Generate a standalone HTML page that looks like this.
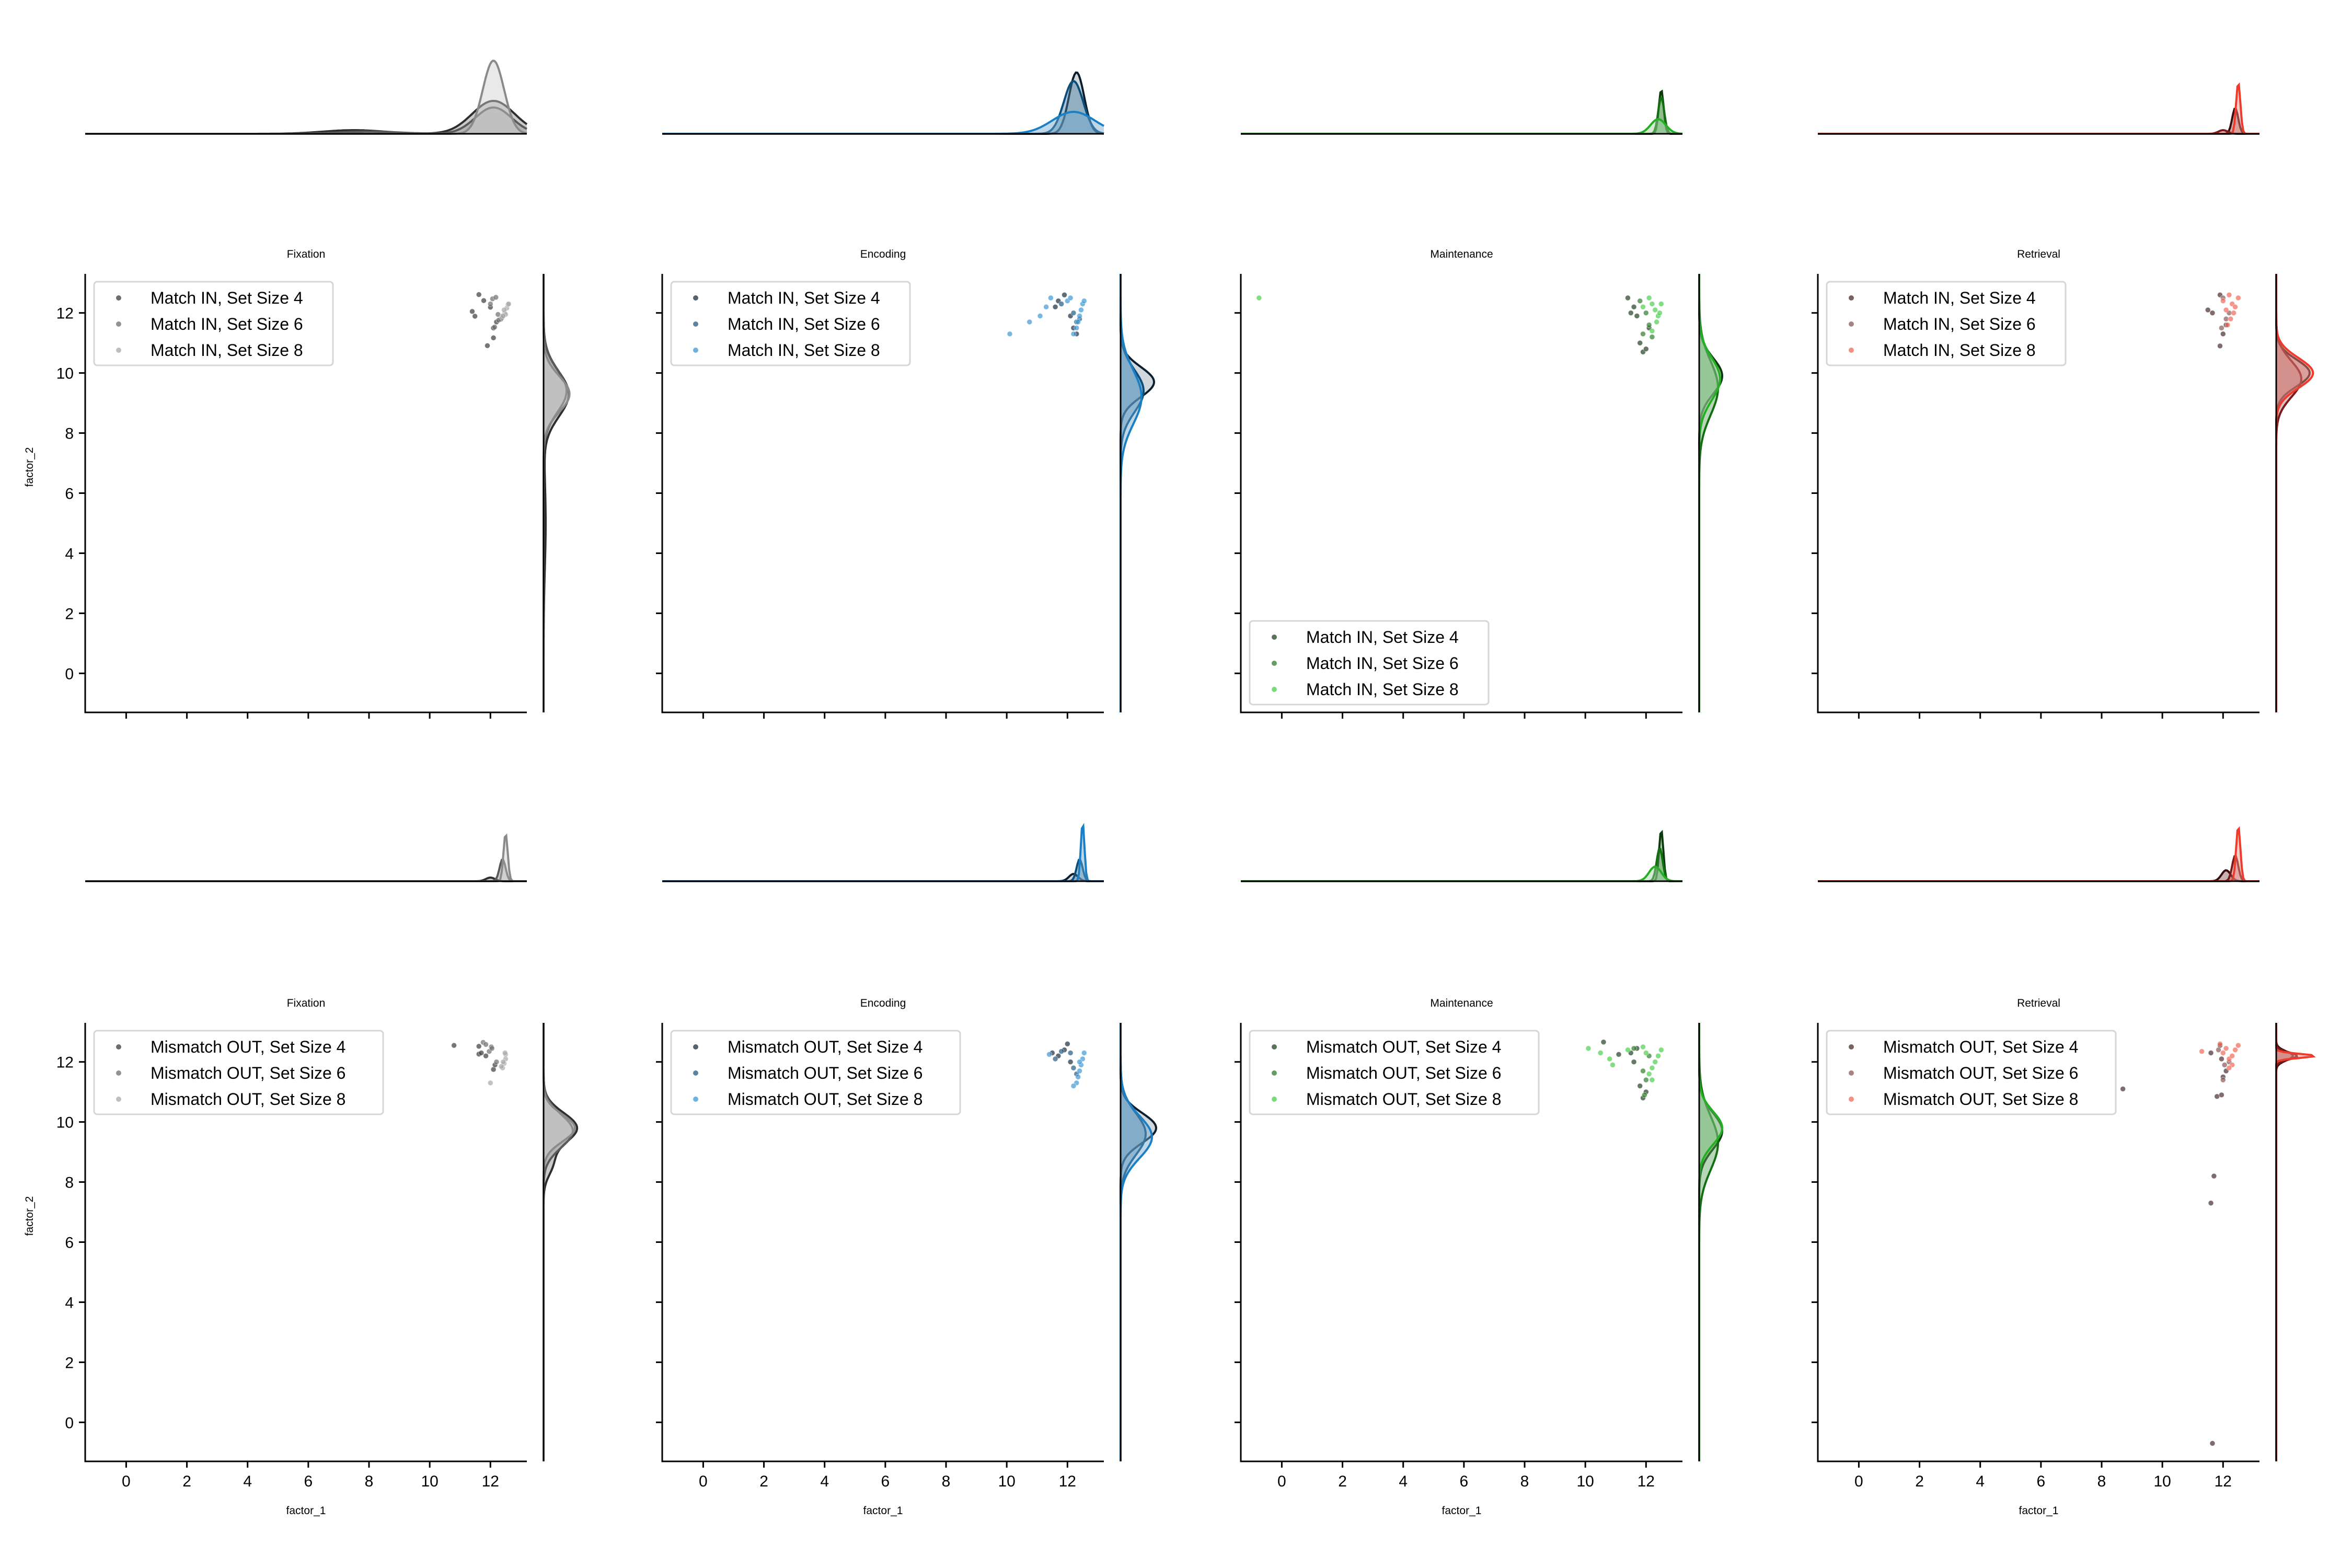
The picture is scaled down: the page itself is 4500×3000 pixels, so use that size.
<!DOCTYPE html>
<html><head><meta charset="utf-8">
<style>
html,body{margin:0;padding:0;background:#fff;}
svg{display:block;font-family:"Liberation Sans","DejaVu Sans",sans-serif;}
</style></head>
<body>
<svg id="chart" width="4500" height="3000" viewBox="0 0 4500 3000" xmlns="http://www.w3.org/2000/svg"></svg>
<script>
// ---- data ----
const phases = ["Fixation","Encoding","Maintenance","Retrieval"];
const conditions = ["Match IN","Mismatch OUT"];
const setSizes = ["Set Size 4","Set Size 6","Set Size 8"];
const xTicks = [0,2,4,6,8,10,12];
const yTicks = [0,2,4,6,8,10,12];

// scatter points per panel [row][col] -> 3 series of [x,y]
const pointsFixIn = [
 [[11.62,12.61],[11.78,12.41],[11.4,12.05],[11.49,11.89],[11.9,10.91],[12.1,11.17],[12.0,12.19],[12.2,11.7],[12.35,11.8],[12.1,11.5]],
 [[12.07,12.47],[12.18,12.52],[12.14,11.53],[12.27,11.76],[12.25,11.95],[12.0,12.3],[12.4,11.9]],
 [[12.38,11.84],[12.47,12.0],[12.54,12.16],[12.58,12.28],[12.45,12.1],[12.5,11.95],[12.6,12.3],[12.42,11.9]]];
const pointsEncIn = [
 [[11.9,12.6],[11.6,12.2],[12.2,11.5],[12.3,11.3],[12.1,11.9],[11.7,12.4]],
 [[12.3,11.7],[12.2,12.0],[11.8,12.3],[12.4,11.8]],
 [[10.1,11.3],[10.75,11.7],[11.1,11.9],[11.45,12.5],[11.3,12.2],[12.0,12.4],[12.5,12.3],[12.45,12.1],[12.4,11.9],[12.35,11.7],[12.3,11.5],[12.2,11.3],[12.55,12.4],[12.1,12.5]]];
const pointsMaiIn = [
 [[11.4,12.5],[11.6,12.2],[11.8,11.0],[11.9,10.7],[12.0,10.8],[11.7,11.9],[12.1,11.5],[11.5,12.0]],
 [[11.8,12.4],[12.0,12.0],[12.1,11.6],[11.9,11.3],[12.2,11.2]],
 [[-0.75,12.5],[12.2,12.3],[12.3,12.1],[12.4,11.9],[12.5,12.3],[12.35,11.7],[12.2,11.4],[12.1,12.5],[11.9,12.2],[12.45,12.0]]];
const pointsRetIn = [
 [[11.5,12.1],[11.65,12.0],[11.9,10.9],[12.0,11.3],[11.9,12.6],[12.1,11.6]],
 [[12.0,12.5],[12.1,11.8],[11.95,11.5],[12.2,12.0]],
 [[12.0,12.4],[12.2,12.6],[12.3,12.3],[12.35,12.0],[12.25,11.8],[12.15,11.6],[12.4,12.2],[12.5,12.5],[12.1,12.1]]];
const pointsFixOut = [
 [[10.8,12.55],[11.62,12.52],[11.62,12.26],[11.85,12.2],[12.1,11.75],[12.15,11.9],[11.7,12.3]],
 [[11.76,12.65],[11.85,12.58],[11.96,12.35],[12.03,12.5],[12.2,12.0],[12.05,12.45]],
 [[12.0,11.3],[12.4,11.8],[12.45,11.95],[12.5,12.1],[12.5,12.25],[12.42,12.0],[12.36,11.85],[12.48,12.3]]];
const pointsEncOut = [
 [[11.5,12.3],[11.7,12.2],[11.9,12.4],[12.1,12.0],[12.0,12.6]],
 [[11.6,12.1],[11.8,12.35],[12.2,11.8],[12.3,11.6],[12.1,12.3]],
 [[11.4,12.25],[12.3,11.3],[12.35,11.5],[12.4,11.7],[12.45,11.9],[12.5,12.1],[12.55,12.3],[12.4,12.0],[12.2,11.2]]];
const pointsMaiOut = [
 [[10.6,12.66],[11.1,12.25],[11.5,12.3],[11.6,12.0],[11.8,11.2],[11.9,10.8],[12.0,11.0],[11.7,12.45]],
 [[11.6,12.45],[11.9,11.7],[12.0,11.4],[11.95,10.9],[12.1,12.2]],
 [[10.1,12.45],[10.5,12.3],[10.8,12.1],[10.9,11.9],[11.4,12.4],[11.9,12.5],[12.0,12.3],[12.2,11.8],[12.3,12.0],[12.4,12.2],[12.5,12.4],[12.1,11.6],[12.2,11.4]]];
const pointsRetOut = [
 [[8.7,11.1],[11.7,8.2],[11.6,7.3],[11.65,-0.7],[11.8,10.85],[11.95,10.9],[11.6,12.3],[11.9,12.55],[12.0,11.5],[12.1,11.7],[11.95,12.1]],
 [[11.85,12.4],[12.05,11.9],[12.0,11.4],[12.2,12.0]],
 [[11.3,12.35],[11.9,12.6],[12.0,12.3],[12.1,12.45],[12.2,12.1],[12.3,12.2],[12.4,12.4],[12.5,12.55],[12.3,11.9],[12.2,11.8]]];
const panelPoints = [[pointsFixIn,pointsEncIn,pointsMaiIn,pointsRetIn],[pointsFixOut,pointsEncOut,pointsMaiOut,pointsRetOut]];

// marginal density components per series: [mean, sd, relative height]
const topKdeIn = [
 [[[12.1,0.7,0.45],[7.5,1.0,0.05]],[[12.1,0.6,0.36],[8.0,1.0,0.03]],[[12.1,0.35,1.0]]],
 [[[12.3,0.25,0.84]],[[12.2,0.32,0.72]],[[12.2,0.7,0.3]]],
 [[[12.5,0.08,0.6]],[[12.5,0.1,0.5]],[[12.4,0.25,0.2]]],
 [[[12.4,0.1,0.35]],[[12.0,0.15,0.05]],[[12.5,0.07,0.7]]]];
const topKdeOut = [
 [[[12.0,0.15,0.05]],[[12.4,0.1,0.3]],[[12.5,0.07,0.65]]],
 [[[12.2,0.15,0.1]],[[12.4,0.1,0.3]],[[12.5,0.06,0.8]]],
 [[[12.5,0.07,0.7]],[[12.45,0.1,0.45]],[[12.3,0.2,0.2]]],
 [[[12.1,0.15,0.15]],[[12.4,0.1,0.35]],[[12.5,0.07,0.75]]]];
const rightKdeIn = [
 [[[9.3,0.75,0.6],[5,1.5,0.05]],[[9.4,0.7,0.55]],[[9.3,0.6,0.62]]],
 [[[9.7,0.5,0.8]],[[9.4,0.7,0.55]],[[9.2,0.9,0.5]]],
 [[[9.9,0.6,0.55]],[[9.5,0.9,0.45]],[[9.8,0.7,0.5]]],
 [[[10.0,0.45,0.8]],[[9.8,0.6,0.6]],[[10.0,0.5,0.88]]]];
const rightKdeOut = [
 [[[9.8,0.5,0.8],[8.6,0.4,0.2]],[[9.7,0.55,0.7]],[[9.8,0.45,0.75]]],
 [[[9.8,0.5,0.85]],[[9.6,0.7,0.6]],[[9.5,0.7,0.75]]],
 [[[9.7,0.6,0.55]],[[9.3,0.9,0.45]],[[9.8,0.55,0.55]]],
 [[[12.2,0.15,0.4]],[[12.2,0.12,0.5]],[[12.2,0.07,0.92]]]];
const topKde = [topKdeIn, topKdeOut];
const rightKde = [rightKdeIn, rightKdeOut];

// ---- styling ----
const pointColors = [
 ["#3c3c3c","#6e6e6e","#a8a8a8"],
 ["#1c2f40","#235b80","#3d98d6"],
 ["#234223","#2e7d2e","#4fcf4f"],
 ["#4a2e2e","#8a5a5a","#f26a5a"]];
const lineColors = [
 ["#2e2e2e","#5a5a5a","#8a8a8a"],
 ["#0b1e2e","#0c4e7a","#1a7fc4"],
 ["#0b3a0b","#107010","#22b022"],
 ["#3a0e0e","#7a1a1a","#ee3b2b"]];
const fillColors = [
 ["#8a8a8a","#9a9a9a","#cfcfcf"],
 ["#9aa6b0","#4a7fa4","#6fa8d0"],
 ["#5a9a5a","#5fa35f","#9fd29f"],
 ["#8a5050","#b07070","#f08f85"]];

const NS = "http://www.w3.org/2000/svg";
const svg = document.getElementById("chart");
function mk(tag, attrs, parent){const e=document.createElementNS(NS,tag);for(const k in attrs)e.setAttribute(k,attrs[k]);(parent||svg).appendChild(e);return e;}

const colLeft = [163,1267,2374,3478];
const W = 845;
const rowTop = [524,1957];
const H = 839;
const topBase = [256,1686];
const xMin=-1.35,xMax=13.2,yMin=-1.3,yMax=13.3;
const TOPH = 140, RIGHTW = 80, RGAP = 32;

function gauss(v,c){let s=0;for(const [m,sd,a] of c){s+=a*Math.exp(-0.5*((v-m)/sd)**2);}return s;}

for(let r=0;r<2;r++){
 for(let c=0;c<4;c++){
  const L=colLeft[c], T=rowTop[r];
  const sx=v=>L+(v-xMin)/(xMax-xMin)*W;
  const sy=v=>T+(yMax-v)/(yMax-yMin)*H;
  const g=mk("g",{});
  
  

  // top marginal
  const tb=topBase[r];
  const tg=mk("g",{},g);
  
  
  for(let s=0;s<3;s++){
   const comp=topKde[r][c][s];
   let d="",pts=[];
   for(let i=0;i<=300;i++){const v=xMin+(xMax-xMin)*i/300;pts.push([sx(v),tb-gauss(v,comp)*TOPH]);}
   d="M"+pts.map(p=>p[0].toFixed(1)+","+p[1].toFixed(1)).join("L");
   const f=mk("path",{d:d+"L"+sx(xMax)+","+tb+"L"+sx(xMin)+","+tb+"Z",fill:fillColors[c][s],"fill-opacity":0.45,stroke:"none"},tg);
   
   
   const l=mk("path",{d:d,fill:"none",stroke:lineColors[c][s],"stroke-width":4},tg);
   
   
  }
  const tl=mk("line",{x1:L,x2:L+W,y1:tb,y2:tb,stroke:"#000","stroke-width":3},tg);
  
  

  // right marginal
  const rx=L+W+RGAP;
  const rg=mk("g",{},g);
  
  
  for(let s=0;s<3;s++){
   const comp=rightKde[r][c][s];
   let pts=[];
   for(let i=0;i<=300;i++){const v=yMin+(yMax-yMin)*i/300;pts.push([rx+gauss(v,comp)*RIGHTW,sy(v)]);}
   const d="M"+pts.map(p=>p[0].toFixed(1)+","+p[1].toFixed(1)).join("L");
   const f=mk("path",{d:d+"L"+rx+","+sy(yMax)+"L"+rx+","+sy(yMin)+"Z",fill:fillColors[c][s],"fill-opacity":0.45},rg);
   
   
   const l=mk("path",{d:d,fill:"none",stroke:lineColors[c][s],"stroke-width":4},rg);
   
   
  }
  const rl=mk("line",{x1:rx,x2:rx,y1:T,y2:T+H,stroke:"#000","stroke-width":3},rg);
  
  

  // title
  const ti=mk("text",{x:L+W/2,y:rowTop[r]-31,"font-size":21,"text-anchor":"middle",fill:"#000"},g);
  ti.textContent=phases[c];
  
  

  // points
  const pg=mk("g",{},g);
  
  
  for(let s=0;s<3;s++){
   for(const [x,y] of panelPoints[r][c][s]){
    const p=mk("circle",{cx:sx(x),cy:sy(y),r:5,fill:pointColors[c][s],"fill-opacity":0.7,stroke:"#fff","stroke-width":0.8,"stroke-opacity":0.6},pg);
    
    
   }
  }

  // axes
  const ax=mk("path",{d:`M${L},${T}L${L},${T+H}L${L+W},${T+H}`,fill:"none",stroke:"#000","stroke-width":3},g);
  
  
  for(const t of xTicks){
   const tk=mk("line",{x1:sx(t),x2:sx(t),y1:T+H,y2:T+H+12,stroke:"#000","stroke-width":3},g);
   
   
   if(r===1){
    const tt=mk("text",{x:sx(t),y:T+H+48,"font-size":30,"text-anchor":"middle",fill:"#000"},g);
    tt.textContent=t;
    
    
   }
  }
  for(const t of yTicks){
   const tk=mk("line",{x1:L-12,x2:L,y1:sy(t),y2:sy(t),stroke:"#000","stroke-width":3},g);
   
   
   if(c===0){
    const tt=mk("text",{x:L-22,y:sy(t)+11,"font-size":30,"text-anchor":"end",fill:"#000"},g);
    tt.textContent=t;
    
    
   }
  }
  if(r===1){
   const xl=mk("text",{x:L+W/2,y:2897,"font-size":21,"text-anchor":"middle",fill:"#000"},g);
   xl.textContent="factor_1";
   
   
  }
  if(c===0){
   const cy=T+H/2-50;
   const yl=mk("text",{x:0,y:0,"font-size":21,"text-anchor":"middle",fill:"#000",transform:`translate(63,${cy}) rotate(-90)`},g);
   yl.textContent="factor_2";
   
   
  }

  // legend
  const lw = r===0?457:553, lh=160;
  const lx=L+17;
  const ly=(r===0&&c===2)? T+H-175 : T+15;
  const lg=mk("g",{},g);
  
  
  mk("rect",{x:lx,y:ly,width:lw,height:lh,rx:6,fill:"#fff","fill-opacity":0.85,stroke:"#d6d6d6","stroke-width":3},lg);
  for(let s=0;s<3;s++){
   const ey=ly+31+s*50;
   const e=mk("g",{},lg);
   
   
   mk("circle",{cx:lx+47,cy:ey,r:5,fill:pointColors[c][s],"fill-opacity":0.75},e);
   const t=mk("text",{x:lx+108,y:ey+11,"font-size":32,fill:"#000"},e);
   t.textContent=conditions[r]+", "+setSizes[s];
  }
 }
}
</script>
</body></html>
